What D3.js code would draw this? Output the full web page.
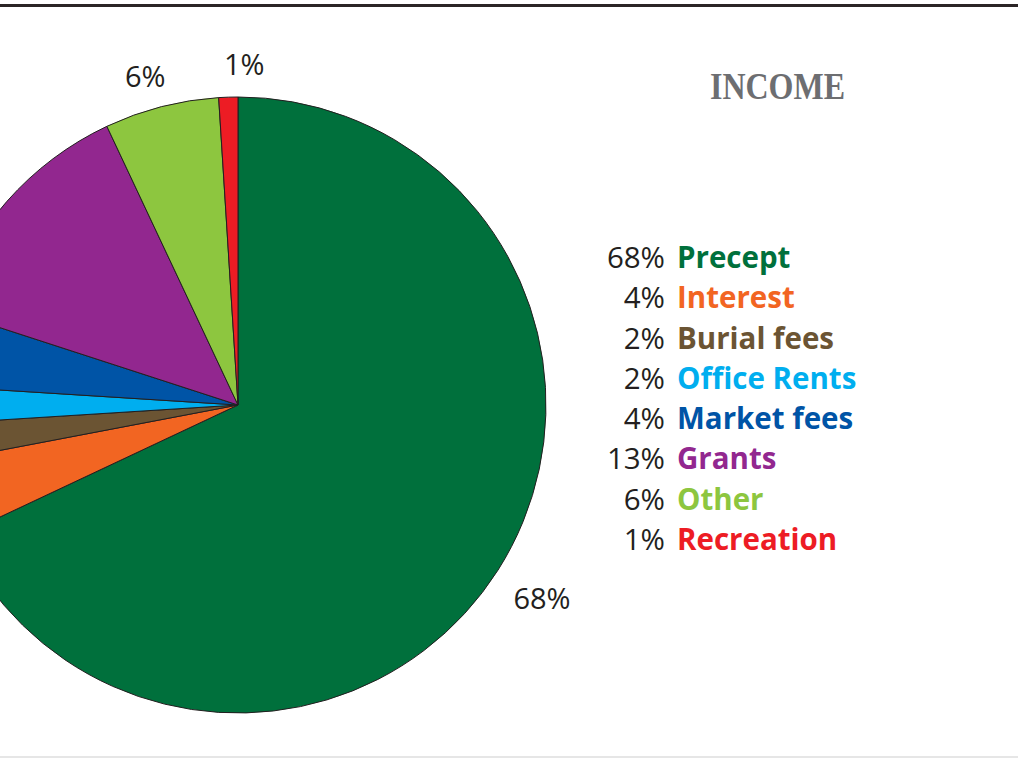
<!DOCTYPE html>
<html>
<head>
<meta charset="utf-8">
<script src="https://cdn.jsdelivr.net/npm/d3@7"></script>
<style>
html,body{margin:0;padding:0;background:#fff;overflow:hidden;}
svg{display:block;}
</style>
</head>
<body>
<svg id="chart" width="1018" height="758"></svg>
<script>
// ---- data ----
const categories = ["Precept","Interest","Burial fees","Office Rents","Market fees","Grants","Other","Recreation"];
const values = [68, 4, 2, 2, 4, 13, 6, 1];
const colors = ["#00703c","#f26522","#6b5433","#00aeef","#0054a6","#92278f","#8dc63f","#ed1c24"];
const pieLabelCats = ["Precept","Other","Recreation"];
const title = "INCOME";

// ---- layout ----
const W = 1018, H = 758;
const cx = 238, cy = 405, R = 308;
const svg = d3.select("#chart");

// top and bottom rules
svg.append("rect").attr("x",0).attr("y",4).attr("width",W).attr("height",3).attr("fill","#2b2526");
svg.append("rect").attr("x",0).attr("y",H-2).attr("width",W).attr("height",2).attr("fill","#e6e6e6");

const data = categories.map((c,i)=>({cat:c, value:values[i], color:colors[i]}));
const pie = d3.pie().value(d=>d.value).sort(null).startAngle(0).endAngle(2*Math.PI);
const arcs = pie(data);
const arc = d3.arc().innerRadius(0).outerRadius(R);

const g = svg.append("g").attr("transform",`translate(${cx},${cy})`);
g.selectAll("path").data(arcs).join("path")
  .attr("d",arc)
  .attr("fill",d=>d.data.color)
  .attr("stroke","#231f20")
  .attr("stroke-width",1)
  .attr("stroke-linejoin","round");

// outside labels
const labelLayout = {"Precept":{r:360,dx:0,dy:0},"Other":{r:345,dx:-7,dy:5},"Recreation":{r:345,dx:17,dy:3}};
arcs.filter(a=>pieLabelCats.includes(a.data.cat)).forEach(a=>{
  const L = labelLayout[a.data.cat];
  const c = d3.arc().innerRadius(L.r).outerRadius(L.r).centroid(a);
  g.append("text")
    .attr("x",c[0]+L.dx).attr("y",c[1]+L.dy)
    .attr("text-anchor","middle").attr("dominant-baseline","central")
    .attr("font-family","'Open Sans', sans-serif").attr("font-size",29)
    .attr("fill","#231f20")
    .text(a.data.value+"%");
});

// title
svg.append("text")
  .attr("x",710).attr("y",99)
  .attr("font-family","'Liberation Serif','Times New Roman',serif")
  .attr("font-weight","bold").attr("font-size",38)
  .attr("textLength",135).attr("lengthAdjust","spacingAndGlyphs")
  .attr("fill","#6d6e71")
  .text(title);

// legend
const y = d3.scalePoint().domain(categories).range([268,550]);
const leg = svg.append("g");
data.forEach(d=>{
  leg.append("text")
    .attr("x",665).attr("y",y(d.cat))
    .attr("text-anchor","end")
    .attr("font-family","'Open Sans', sans-serif").attr("font-size",29.5)
    .attr("fill","#231f20")
    .text(d.value+"%");
  leg.append("text")
    .attr("x",677).attr("y",y(d.cat))
    .attr("font-family","'Open Sans', sans-serif").attr("font-weight","bold").attr("font-size",29.5)
    .attr("fill",d.color)
    .text(d.cat);
});
</script>
</body>
</html>
